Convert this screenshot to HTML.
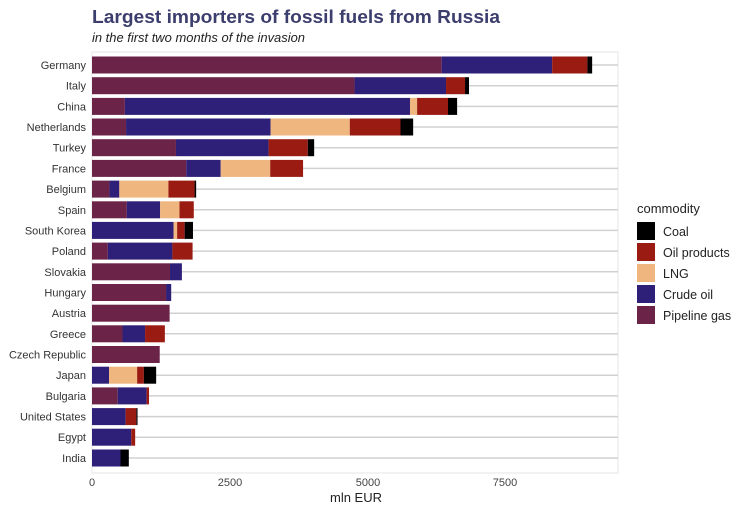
<!DOCTYPE html>
<html><head><meta charset="utf-8"><style>body{margin:0;background:#fff}svg{display:block;font-family:"Liberation Sans",sans-serif}</style></head><body>
<svg width="750" height="515" viewBox="0 0 750 515" xmlns="http://www.w3.org/2000/svg">
<rect width="750" height="515" fill="#fff"/>
<text x="92" y="23" font-size="18.5" font-weight="bold" fill="#3c3e6e" textLength="408" lengthAdjust="spacingAndGlyphs">Largest importers of fossil fuels from Russia</text>
<text x="92" y="42" font-size="12.5" font-style="italic" fill="#222" textLength="213" lengthAdjust="spacingAndGlyphs">in the first two months of the invasion</text>
<rect x="92" y="52" width="526" height="421" fill="#fff" stroke="#e4e4e4" stroke-width="1"/>
<g stroke="#d0d0d0" stroke-width="1.5">
<line x1="92" x2="618" y1="65" y2="65"/><line x1="92" x2="618" y1="85.7" y2="85.7"/><line x1="92" x2="618" y1="106.4" y2="106.4"/><line x1="92" x2="618" y1="127" y2="127"/><line x1="92" x2="618" y1="147.7" y2="147.7"/><line x1="92" x2="618" y1="168.4" y2="168.4"/><line x1="92" x2="618" y1="189.1" y2="189.1"/><line x1="92" x2="618" y1="209.8" y2="209.8"/><line x1="92" x2="618" y1="230.4" y2="230.4"/><line x1="92" x2="618" y1="251.1" y2="251.1"/><line x1="92" x2="618" y1="271.8" y2="271.8"/><line x1="92" x2="618" y1="292.5" y2="292.5"/><line x1="92" x2="618" y1="313.2" y2="313.2"/><line x1="92" x2="618" y1="333.8" y2="333.8"/><line x1="92" x2="618" y1="354.5" y2="354.5"/><line x1="92" x2="618" y1="375.2" y2="375.2"/><line x1="92" x2="618" y1="395.9" y2="395.9"/><line x1="92" x2="618" y1="416.6" y2="416.6"/><line x1="92" x2="618" y1="437.2" y2="437.2"/><line x1="92" x2="618" y1="458" y2="458"/>
</g>
<g font-size="11" fill="#333" text-anchor="end">
<text x="86" y="69">Germany</text><text x="86" y="89.7">Italy</text><text x="86" y="110.4">China</text><text x="86" y="131">Netherlands</text><text x="86" y="151.7">Turkey</text><text x="86" y="172.4">France</text><text x="86" y="193.1">Belgium</text><text x="86" y="213.8">Spain</text><text x="86" y="234.4">South Korea</text><text x="86" y="255.1">Poland</text><text x="86" y="275.8">Slovakia</text><text x="86" y="296.5">Hungary</text><text x="86" y="317.2">Austria</text><text x="86" y="337.8">Greece</text><text x="86" y="358.5">Czech Republic</text><text x="86" y="379.2">Japan</text><text x="86" y="399.9">Bulgaria</text><text x="86" y="420.6">United States</text><text x="86" y="441.2">Egypt</text><text x="86" y="462">India</text>
</g>
<g transform="translate(92 0) scale(0.99 1) translate(-92 0)">
<rect x="92" y="56.5" width="353.2" height="17" fill="#6b2448"/><rect x="445.2" y="56.5" width="111.6" height="17" fill="#2e1f78"/><rect x="556.8" y="56.5" width="35.6" height="17" fill="#9a1b12"/><rect x="592.4" y="56.5" width="4.8" height="17" fill="#000"/>
<rect x="92" y="77.2" width="265.2" height="17" fill="#6b2448"/><rect x="357.2" y="77.2" width="92.4" height="17" fill="#2e1f78"/><rect x="449.6" y="77.2" width="19.2" height="17" fill="#9a1b12"/><rect x="468.8" y="77.2" width="4" height="17" fill="#000"/>
<rect x="92" y="97.9" width="33.2" height="17" fill="#6b2448"/><rect x="125.2" y="97.9" width="288" height="17" fill="#2e1f78"/><rect x="413.2" y="97.9" width="7.2" height="17" fill="#f0b67f"/><rect x="420.4" y="97.9" width="31.2" height="17" fill="#9a1b12"/><rect x="451.6" y="97.9" width="9.2" height="17" fill="#000"/>
<rect x="92" y="118.5" width="34.4" height="17" fill="#6b2448"/><rect x="126.4" y="118.5" width="146" height="17" fill="#2e1f78"/><rect x="272.4" y="118.5" width="80" height="17" fill="#f0b67f"/><rect x="352.4" y="118.5" width="51.2" height="17" fill="#9a1b12"/><rect x="403.6" y="118.5" width="12.8" height="17" fill="#000"/>
<rect x="92" y="139.2" width="84.8" height="17" fill="#6b2448"/><rect x="176.8" y="139.2" width="93.6" height="17" fill="#2e1f78"/><rect x="270.4" y="139.2" width="39.6" height="17" fill="#9a1b12"/><rect x="310" y="139.2" width="6.4" height="17" fill="#000"/>
<rect x="92" y="159.9" width="95.2" height="17" fill="#6b2448"/><rect x="187.2" y="159.9" width="34.8" height="17" fill="#2e1f78"/><rect x="222" y="159.9" width="50" height="17" fill="#f0b67f"/><rect x="272" y="159.9" width="33.2" height="17" fill="#9a1b12"/>
<rect x="92" y="180.6" width="17.6" height="17" fill="#6b2448"/><rect x="109.6" y="180.6" width="10" height="17" fill="#2e1f78"/><rect x="119.6" y="180.6" width="49.6" height="17" fill="#f0b67f"/><rect x="169.2" y="180.6" width="26.4" height="17" fill="#9a1b12"/><rect x="195.6" y="180.6" width="1.6" height="17" fill="#000"/>
<rect x="92" y="201.3" width="35.2" height="17" fill="#6b2448"/><rect x="127.2" y="201.3" width="33.6" height="17" fill="#2e1f78"/><rect x="160.8" y="201.3" width="19.6" height="17" fill="#f0b67f"/><rect x="180.4" y="201.3" width="14.4" height="17" fill="#9a1b12"/>
<rect x="92" y="221.9" width="82.4" height="17" fill="#2e1f78"/><rect x="174.4" y="221.9" width="3.6" height="17" fill="#f0b67f"/><rect x="178" y="221.9" width="7.6" height="17" fill="#9a1b12"/><rect x="185.6" y="221.9" width="8.4" height="17" fill="#000"/>
<rect x="92" y="242.6" width="16" height="17" fill="#6b2448"/><rect x="108" y="242.6" width="65.2" height="17" fill="#2e1f78"/><rect x="173.2" y="242.6" width="20.4" height="17" fill="#9a1b12"/>
<rect x="92" y="263.3" width="78.8" height="17" fill="#6b2448"/><rect x="170.8" y="263.3" width="12" height="17" fill="#2e1f78"/>
<rect x="92" y="284" width="74.8" height="17" fill="#6b2448"/><rect x="166.8" y="284" width="5.2" height="17" fill="#2e1f78"/>
<rect x="92" y="304.7" width="78.4" height="17" fill="#6b2448"/>
<rect x="92" y="325.3" width="30.8" height="17" fill="#6b2448"/><rect x="122.8" y="325.3" width="22.8" height="17" fill="#2e1f78"/><rect x="145.6" y="325.3" width="20" height="17" fill="#9a1b12"/>
<rect x="92" y="346" width="68.4" height="17" fill="#6b2448"/>
<rect x="92" y="366.7" width="17.2" height="17" fill="#2e1f78"/><rect x="109.2" y="366.7" width="28.4" height="17" fill="#f0b67f"/><rect x="137.6" y="366.7" width="6.8" height="17" fill="#9a1b12"/><rect x="144.4" y="366.7" width="12.4" height="17" fill="#000"/>
<rect x="92" y="387.4" width="26" height="17" fill="#6b2448"/><rect x="118" y="387.4" width="29.2" height="17" fill="#2e1f78"/><rect x="147.2" y="387.4" width="2.4" height="17" fill="#9a1b12"/>
<rect x="92" y="408.1" width="34" height="17" fill="#2e1f78"/><rect x="126" y="408.1" width="10.8" height="17" fill="#9a1b12"/><rect x="136.8" y="408.1" width="1.2" height="17" fill="#000"/>
<rect x="92" y="428.7" width="39.6" height="17" fill="#2e1f78"/><rect x="131.6" y="428.7" width="4" height="17" fill="#9a1b12"/>
<rect x="92" y="449.5" width="28.8" height="17" fill="#2e1f78"/><rect x="120.8" y="449.5" width="8.4" height="17" fill="#000"/>
</g>
<g font-size="11" fill="#444" text-anchor="middle">
<text x="92" y="486">0</text><text x="230" y="486">2500</text><text x="368" y="486">5000</text><text x="505" y="486">7500</text>
</g>
<text x="356" y="502" font-size="13" fill="#222" text-anchor="middle">mln EUR</text>
<text x="637" y="213" font-size="13" fill="#222">commodity</text>
<rect x="637" y="222" width="18" height="18" fill="#000"/>
<rect x="637" y="243" width="18" height="18" fill="#9a1b12"/>
<rect x="637" y="264" width="18" height="18" fill="#f0b67f"/>
<rect x="637" y="285" width="18" height="18" fill="#2e1f78"/>
<rect x="637" y="306" width="18" height="18" fill="#6b2448"/>
<g font-size="12.5" fill="#222">
<text x="663" y="236">Coal</text><text x="663" y="257">Oil products</text><text x="663" y="278">LNG</text><text x="663" y="299">Crude oil</text><text x="663" y="320">Pipeline gas</text>
</g>
</svg>
</body></html>
